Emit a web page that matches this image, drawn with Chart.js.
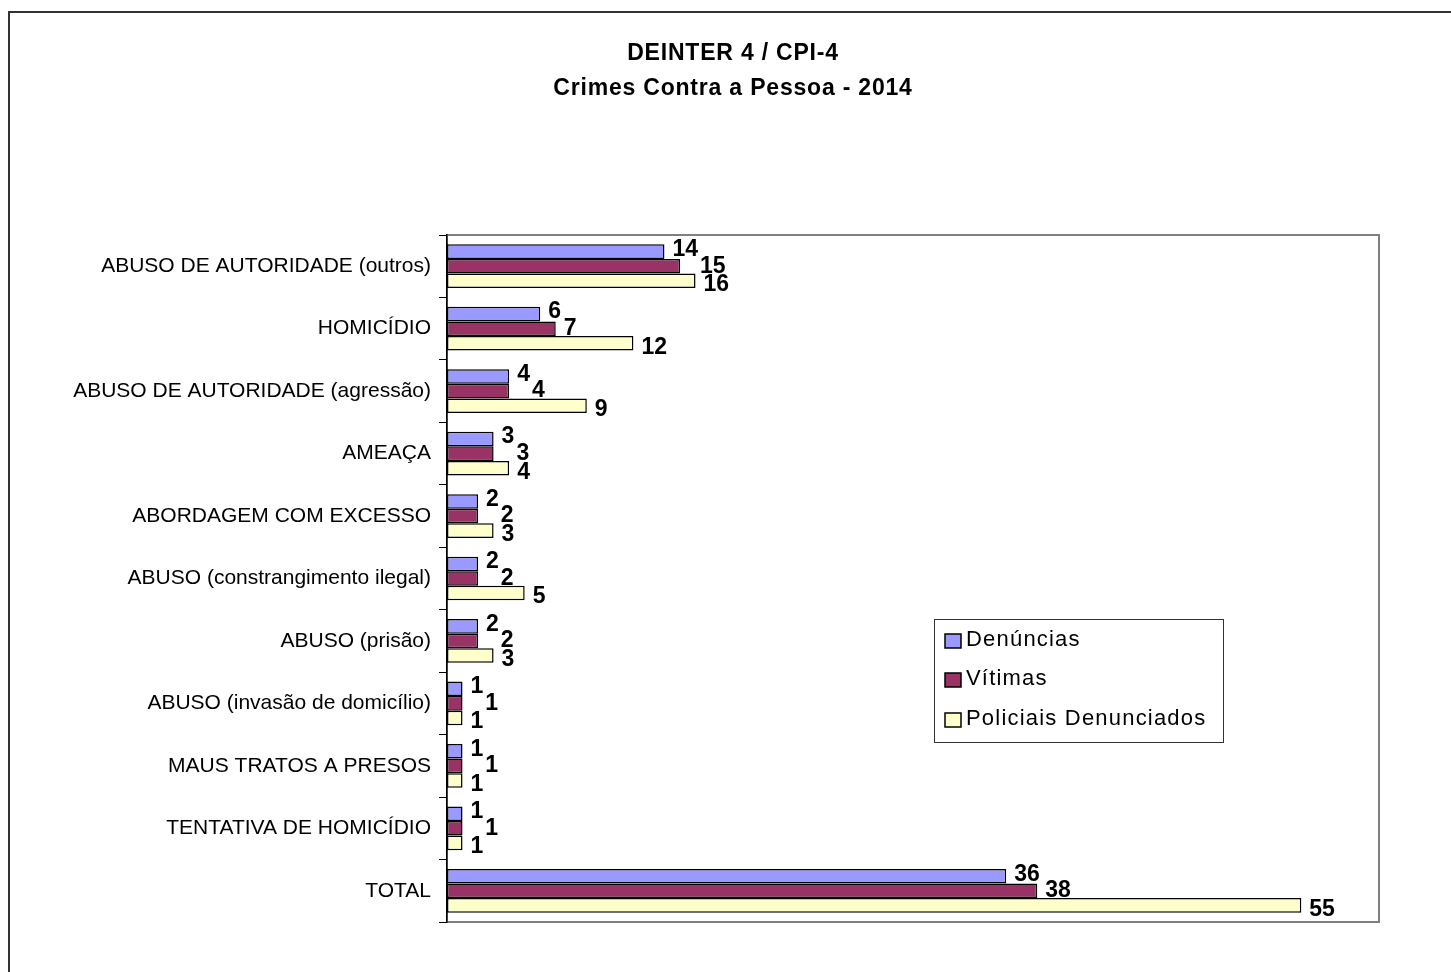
<!DOCTYPE html>
<html>
<head>
<meta charset="utf-8">
<script src="https://cdn.jsdelivr.net/npm/chart.js@4.4.1/dist/chart.umd.min.js"></script>
<style>
  html, body { margin: 0; padding: 0; background: #fff; }
  #wrap { width: 1451px; height: 972px; }
</style>
</head>
<body>
<div id="wrap"><canvas id="c" width="1451" height="972"></canvas></div>
<script>
const titleLines = ["DEINTER 4 / CPI-4", "Crimes Contra a Pessoa - 2014"];
const categories = [
  "ABUSO DE AUTORIDADE (outros)",
  "HOMICÍDIO",
  "ABUSO DE AUTORIDADE (agressão)",
  "AMEAÇA",
  "ABORDAGEM COM EXCESSO",
  "ABUSO (constrangimento ilegal)",
  "ABUSO (prisão)",
  "ABUSO (invasão de domicílio)",
  "MAUS TRATOS A PRESOS",
  "TENTATIVA DE HOMICÍDIO",
  "TOTAL"
];
const seriesNames = ["Denúncias", "Vítimas", "Policiais Denunciados"];
const denuncias = [14, 6, 4, 3, 2, 2, 2, 1, 1, 1, 36];
const vitimas   = [15, 7, 4, 3, 2, 2, 2, 1, 1, 1, 38];
const policiais = [16, 12, 9, 4, 3, 5, 3, 1, 1, 1, 55];
const seriesColors = ["#9999FF", "#993366", "#FFFFCC"];
const xMax = 60;

const FONT = "'Liberation Sans', Arial, sans-serif";

const decorPlugin = {
  id: 'decor',
  beforeDraw(chart) {
    const ctx = chart.ctx;
    const a = chart.chartArea;
    ctx.save();
    ctx.fillStyle = '#fff';
    ctx.fillRect(0, 0, chart.width, chart.height);
    ctx.strokeStyle = '#333';
    ctx.lineWidth = 2;
    ctx.beginPath();
    ctx.moveTo(9, chart.height + 2);
    ctx.lineTo(9, 12);
    ctx.lineTo(chart.width + 2, 12);
    ctx.stroke();
    ctx.strokeStyle = '#808080';
    ctx.lineWidth = 2;
    ctx.strokeRect(a.left, a.top, a.right - a.left, a.bottom - a.top);
    ctx.restore();
  },
  afterDatasetsDraw(chart) {
    const ctx = chart.ctx;
    ctx.save();
    ctx.font = "bold 23px " + FONT;
    ctx.fillStyle = '#000';
    ctx.textAlign = 'left';
    ctx.textBaseline = 'middle';
    const metas = chart.data.datasets.map((ds, di) => chart.getDatasetMeta(di));
    const yShift = [-2, 0, 4];
    chart.data.labels.forEach((lab, i) => {
      let prevEnd = -Infinity;
      chart.data.datasets.forEach((ds, di) => {
        const bar = metas[di].data[i];
        const txt = String(ds.data[i]);
        const w = ctx.measureText(txt).width;
        let x = bar.x + 8;
        if (di === 1) x = Math.max(x, prevEnd + 2);
        ctx.fillText(txt, x, bar.y + yShift[di]);
        prevEnd = x + w;
      });
    });
    ctx.restore();
  },
  afterDraw(chart) {
    const ctx = chart.ctx;
    ctx.save();
    ctx.fillStyle = '#000';
    ctx.font = "bold 23px " + FONT;
    ctx.textAlign = 'center';
    ctx.textBaseline = 'middle';
    try { ctx.letterSpacing = '0.8px'; } catch (e) {}
    ctx.fillText(titleLines[0], 733, 54);
    ctx.fillText(titleLines[1], 733, 89);
    const lx = 934, ly = 619, lw = 289, lh = 123;
    try { ctx.letterSpacing = '0px'; } catch (e) {}
    ctx.strokeStyle = '#333';
    ctx.lineWidth = 1;
    ctx.fillStyle = '#fff';
    ctx.fillRect(lx, ly, lw, lh);
    ctx.strokeRect(lx + 0.5, ly + 0.5, lw, lh);
    ctx.font = "22px " + FONT;
    ctx.textAlign = 'left';
    try { ctx.letterSpacing = '1.2px'; } catch (e) {}
    const rows = [640, 679, 719];
    chart.data.datasets.forEach((ds, di) => {
      const cy = rows[di];
      ctx.fillStyle = ds.backgroundColor;
      ctx.fillRect(945, cy - 6, 16, 14);
      ctx.strokeStyle = '#000';
      ctx.lineWidth = 1.5;
      ctx.strokeRect(945, cy - 6, 16, 14);
      ctx.fillStyle = '#000';
      ctx.fillText(ds.label, 966, cy);
    });
    ctx.restore();
  }
};

new Chart(document.getElementById('c'), {
  type: 'bar',
  data: {
    labels: categories,
    datasets: [
      { label: seriesNames[0], data: denuncias, backgroundColor: seriesColors[0] },
      { label: seriesNames[1], data: vitimas,   backgroundColor: seriesColors[1] },
      { label: seriesNames[2], data: policiais, backgroundColor: seriesColors[2] }
    ].map(d => Object.assign(d, {
      borderColor: '#000',
      borderWidth: 1.5,
      borderSkipped: false,
      categoryPercentage: 0.70,
      barPercentage: 1.0
    }))
  },
  options: {
    indexAxis: 'y',
    responsive: false,
    animation: false,
    layout: { padding: { left: 0, top: 235, right: 72, bottom: 50 } },
    plugins: {
      legend: { display: false },
      tooltip: { enabled: false },
      title: { display: false }
    },
    scales: {
      x: { display: false, min: 0, max: xMax },
      y: {
        afterFit(scale) { scale.width = 447; },
        grid: {
          display: true,
          drawOnChartArea: false,
          drawTicks: true,
          tickLength: 8,
          color: '#000',
          offset: true
        },
        border: { display: true, color: '#000', width: 1.5 },
        ticks: {
          color: '#000',
          font: { family: FONT, size: 21 },
          padding: 8,
          autoSkip: false
        }
      }
    }
  },
  plugins: [decorPlugin]
});
</script>
</body>
</html>
